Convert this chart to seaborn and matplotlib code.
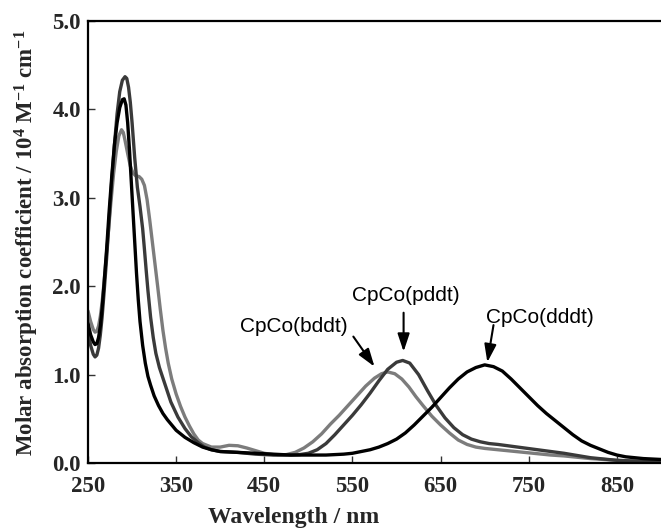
import matplotlib
matplotlib.use("Agg")
import matplotlib.pyplot as plt
import seaborn as sns
import pandas as pd

# ---- data ----
wl_dddt = [250, 253, 256, 258, 260, 262, 264, 266, 268, 271, 274, 277, 280, 283, 286, 289, 291, 293,
           295, 297, 299, 301, 303, 305, 307, 309, 312, 315, 318, 321, 325, 330, 335, 340, 345, 350,
           355, 360, 370, 380, 390, 400, 420, 440, 460, 480, 500, 520, 540, 550, 560, 570, 580, 590,
           600, 610, 620, 630, 640, 650, 660, 670, 680, 690, 700, 710, 720, 730, 740, 750, 760, 770,
           780, 790, 800, 810, 820, 830, 840, 850, 860, 870, 880, 890, 900]
ab_dddt = [1.58, 1.45, 1.37, 1.34, 1.35, 1.42, 1.55, 1.75, 2.00, 2.40, 2.85, 3.25, 3.60, 3.85, 4.02,
           4.11, 4.12, 4.05, 3.85, 3.55, 3.20, 2.85, 2.50, 2.15, 1.85, 1.60, 1.33, 1.13, 0.98, 0.88,
           0.76, 0.65, 0.56, 0.49, 0.43, 0.37, 0.33, 0.29, 0.23, 0.18, 0.15, 0.13, 0.12, 0.11, 0.10,
           0.09, 0.09, 0.09, 0.10, 0.11, 0.13, 0.15, 0.18, 0.22, 0.27, 0.34, 0.43, 0.53, 0.63, 0.74,
           0.85, 0.95, 1.03, 1.08, 1.11, 1.09, 1.04, 0.95, 0.85, 0.75, 0.65, 0.56, 0.48, 0.40, 0.32,
           0.25, 0.20, 0.16, 0.12, 0.09, 0.07, 0.06, 0.05, 0.045, 0.04]

wl_pddt = [250, 253, 256, 258, 260, 262, 264, 266, 268, 271, 274, 277, 280, 283, 286, 289, 292, 294,
           296, 298, 300, 303, 306, 309, 312, 314, 316, 318, 321, 324, 327, 331, 337, 344, 352, 360,
           367, 375, 382, 390, 400, 420, 440, 460, 480, 490, 500, 510, 520, 530, 540, 550, 560, 570,
           580, 590, 600, 607, 615, 625, 635, 645, 655, 665, 675, 685, 695, 705, 715, 730, 745, 760,
           775, 790, 805, 820, 835, 850, 875, 900]
ab_pddt = [1.48, 1.33, 1.23, 1.20, 1.22, 1.30, 1.45, 1.65, 1.90, 2.30, 2.75, 3.20, 3.60, 3.95, 4.20,
           4.33, 4.37, 4.35, 4.25, 4.08, 3.85, 3.45, 3.12, 2.90, 2.65, 2.42, 2.18, 1.95, 1.65, 1.42,
           1.24, 1.08, 0.90, 0.69, 0.52, 0.39, 0.30, 0.23, 0.18, 0.15, 0.13, 0.12, 0.10, 0.09, 0.09,
           0.095, 0.11, 0.15, 0.22, 0.32, 0.43, 0.54, 0.66, 0.79, 0.93, 1.06, 1.14, 1.16, 1.13, 1.00,
           0.82, 0.65, 0.51, 0.40, 0.32, 0.27, 0.24, 0.22, 0.21, 0.19, 0.17, 0.15, 0.13, 0.11, 0.085,
           0.06, 0.045, 0.03, 0.02, 0.02]

wl_bddt = [250, 253, 256, 258, 260, 262, 264, 266, 268, 270, 273, 276, 279, 282, 285, 288, 290, 292,
           295, 298, 301, 304, 308, 311, 314, 317, 320, 323, 326, 329, 332, 335, 338, 341, 345, 350,
           355, 360, 365, 370, 375, 380, 390, 400, 410, 420, 430, 440, 450, 460, 465, 475, 485, 495,
           505, 515, 525, 535, 545, 555, 565, 575, 583, 590, 598, 606, 614, 622, 630, 640, 650, 660,
           670, 680, 690, 700, 715, 730, 745, 760, 775, 790, 805, 820, 835, 850, 875, 900]
ab_bddt = [1.72, 1.60, 1.51, 1.48, 1.49, 1.55, 1.66, 1.82, 2.02, 2.25, 2.60, 2.95, 3.27, 3.52, 3.70,
           3.77, 3.74, 3.65, 3.50, 3.36, 3.28, 3.25, 3.24, 3.21, 3.14, 2.98, 2.75, 2.50, 2.25, 2.00,
           1.74, 1.50, 1.30, 1.13, 0.95, 0.78, 0.64, 0.52, 0.42, 0.33, 0.26, 0.22, 0.18, 0.18, 0.20,
           0.195, 0.17, 0.14, 0.11, 0.095, 0.09, 0.095, 0.12, 0.17, 0.24, 0.33, 0.44, 0.54, 0.65, 0.76,
           0.87, 0.96, 1.01, 1.03, 1.01, 0.95, 0.86, 0.75, 0.65, 0.53, 0.43, 0.34, 0.26, 0.21, 0.18,
           0.165, 0.15, 0.135, 0.12, 0.105, 0.09, 0.08, 0.065, 0.05, 0.04, 0.03, 0.02, 0.01]

names = ["CpCo(bddt)", "CpCo(pddt)", "CpCo(dddt)"]
colors = {"CpCo(bddt)": "#7c7c7c", "CpCo(pddt)": "#3a3a3a", "CpCo(dddt)": "#000000"}

xticks = [250, 350, 450, 550, 650, 750, 850]
yticks = [0.0, 1.0, 2.0, 3.0, 4.0, 5.0]

df = pd.concat([
    pd.DataFrame({"wl": wl_bddt, "abs": ab_bddt, "compound": names[0]}),
    pd.DataFrame({"wl": wl_pddt, "abs": ab_pddt, "compound": names[1]}),
    pd.DataFrame({"wl": wl_dddt, "abs": ab_dddt, "compound": names[2]}),
], ignore_index=True)

sns.set_theme(style="ticks")
plt.rcParams["font.family"] = ["Liberation Serif", "DejaVu Serif"]
plt.rcParams["mathtext.fontset"] = "custom"
plt.rcParams["mathtext.rm"] = "Liberation Serif:bold"
plt.rcParams["mathtext.it"] = "Liberation Serif:bold"
plt.rcParams["mathtext.bf"] = "Liberation Serif:bold"
plt.rcParams["mathtext.default"] = "rm"

fig = plt.figure(figsize=(6.61, 5.29), dpi=100)
W, H = 661, 529
ax = fig.add_axes([88 / W, (H - 463) / H, (661 - 88) / W, (463 - 21) / H])

sns.lineplot(data=df, x="wl", y="abs", hue="compound", palette=colors, hue_order=names,
             estimator=None, linewidth=2.4, legend=False, ax=ax)
for ln in ax.lines:
    ln.set_solid_joinstyle("round")
    ln.set_solid_capstyle("round")

ax.set_xlim(250, 900)
ax.set_ylim(0, 5.0)
ax.set_xticks(xticks)
ax.set_xticklabels([str(t) for t in xticks])
ax.set_yticks(yticks)
ax.set_yticklabels([f"{t:.1f}" for t in yticks])

for s in ["left", "bottom", "top"]:
    ax.spines[s].set_linewidth(1.6)
    ax.spines[s].set_color("black")
ax.spines["right"].set_visible(False)

ax.tick_params(axis="both", direction="in", length=5, width=1.0, color="#333333",
               labelsize=16.5, top=False, right=False)
ax.tick_params(axis="x", pad=9)
ax.tick_params(axis="y", pad=5)
for lab in ax.get_xticklabels() + ax.get_yticklabels():
    lab.set_fontweight("bold")

ax.set_xlabel("Wavelength / nm", fontsize=17, fontweight="bold")
ax.set_ylabel("Molar absorption coefficient / 10$^{4}$ M$^{-1}$ cm$^{-1}$",
              fontsize=16.5, fontweight="bold")
ax.xaxis.label.set_va("center")
ax.yaxis.label.set_va("center")
ax.xaxis.set_label_coords((294 - 88) / (661 - 88), -(518 - 463) / (463 - 21))
ax.yaxis.set_label_coords(-(88 - 27) / (661 - 88), (463 - 243) / (463 - 21))

txt = dict(fontsize=15, family=["Liberation Sans", "DejaVu Sans"], color="black",
           ha="center", va="center")
ax.text(483, 1.54, "CpCo(bddt)", **txt)
ax.text(611, 1.90, "CpCo(pddt)", **txt)
ax.text(763, 1.65, "CpCo(dddt)", **txt)

arrow = dict(arrowstyle="-|>,head_length=0.9,head_width=0.3", color="black", lw=1.5,
             shrinkA=0, shrinkB=0)
ax.annotate("", xy=(575, 1.09), xytext=(551, 1.43), arrowprops=arrow)
ax.annotate("", xy=(608, 1.26), xytext=(608, 1.70), arrowprops=arrow)
ax.annotate("", xy=(703, 1.14), xytext=(710, 1.56), arrowprops=arrow)

fig.savefig("out.png", dpi=100)
